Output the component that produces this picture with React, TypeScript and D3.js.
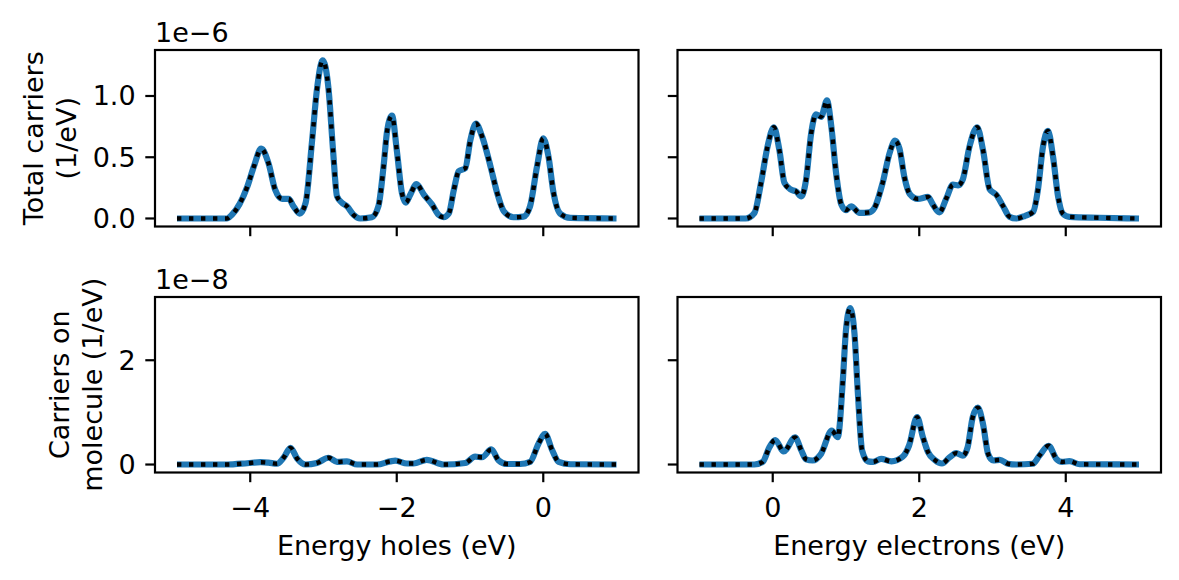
import React from "react";
import * as d3 from "d3";

// ---------- Data ----------
// Top-left: total carriers, holes (units 1e-6 1/eV)
const holesTotalE = [-5, -4.32, -4.25, -4.04, -3.95, -3.85, -3.75, -3.66, -3.565, -3.475, -3.41, -3.325, -3.245, -3.155, -3.09, -3.01, -2.93, -2.87, -2.815, -2.745, -2.68, -2.59, -2.5, -2.34, -2.25, -2.18, -2.13, -2.065, -2.0, -1.93, -1.875, -1.815, -1.73, -1.63, -1.52, -1.43, -1.36, -1.29, -1.22, -1.155, -1.065, -0.995, -0.92, -0.835, -0.72, -0.63, -0.54, -0.405, -0.27, -0.18, -0.085, 0.0, 0.07, 0.14, 0.23, 0.37, 1.0];
const holesTotalV = [0, 0, 0.03, 0.26, 0.425, 0.57, 0.45, 0.235, 0.16, 0.16, 0.1, 0.04, 0.125, 0.64, 1.05, 1.29, 1.05, 0.56, 0.18, 0.127, 0.1, 0.03, 0.0, 0.01, 0.1, 0.425, 0.72, 0.84, 0.56, 0.21, 0.13, 0.195, 0.28, 0.195, 0.115, 0.03, 0.01, 0.04, 0.235, 0.385, 0.41, 0.64, 0.775, 0.67, 0.425, 0.21, 0.06, 0.01, 0.015, 0.1, 0.425, 0.655, 0.51, 0.21, 0.04, 0.005, 0];

// Top-right: total carriers, electrons (1e-6 1/eV)
const elecTotalE = [-1.0, -0.37, -0.25, -0.16, -0.07, 0.015, 0.09, 0.16, 0.25, 0.32, 0.39, 0.455, 0.525, 0.59, 0.66, 0.74, 0.8, 0.865, 0.935, 1.0, 1.07, 1.185, 1.32, 1.39, 1.5, 1.595, 1.67, 1.73, 1.8, 1.87, 1.98, 2.12, 2.185, 2.275, 2.37, 2.46, 2.53, 2.595, 2.687, 2.79, 2.87, 2.96, 3.05, 3.145, 3.23, 3.325, 3.44, 3.555, 3.62, 3.69, 3.757, 3.825, 3.895, 3.96, 4.05, 4.46, 5.0];
const elecTotalV = [0, 0, 0.045, 0.29, 0.59, 0.745, 0.56, 0.29, 0.235, 0.22, 0.18, 0.317, 0.697, 0.85, 0.83, 0.965, 0.75, 0.37, 0.115, 0.068, 0.1, 0.045, 0.05, 0.087, 0.29, 0.534, 0.635, 0.57, 0.33, 0.2, 0.16, 0.176, 0.115, 0.05, 0.165, 0.276, 0.27, 0.32, 0.59, 0.745, 0.56, 0.24, 0.195, 0.1, 0.015, 0, 0.02, 0.055, 0.235, 0.59, 0.715, 0.51, 0.18, 0.04, 0.013, 0.006, 0];

// Bottom-left: carriers on molecule, holes (1e-8 1/eV)
const holesMolE = [-5, -4.32, -4.04, -3.86, -3.75, -3.635, -3.54, -3.45, -3.36, -3.245, -3.09, -2.93, -2.815, -2.68, -2.54, -2.27, -2.09, -2.02, -1.86, -1.77, -1.59, -1.36, -1.065, -0.93, -0.835, -0.71, -0.61, -0.495, -0.315, -0.18, -0.065, 0.025, 0.12, 0.21, 0.37, 1.0];
const holesMolV = [0, 0, 0.025, 0.045, 0.035, 0.015, 0.14, 0.32, 0.115, 0.0, 0.03, 0.13, 0.05, 0.06, 0.0, 0.0, 0.06, 0.075, 0.02, 0.02, 0.09, 0.0, 0.03, 0.15, 0.14, 0.29, 0.08, 0.01, 0.01, 0.05, 0.4, 0.59, 0.28, 0.05, 0.005, 0];

// Bottom-right: carriers on molecule, electrons (1e-8 1/eV)
const elecMolE = [-1.0, -0.25, -0.137, -0.045, 0.033, 0.15, 0.305, 0.39, 0.455, 0.545, 0.66, 0.805, 0.888, 0.957, 1.0, 1.057, 1.116, 1.16, 1.22, 1.3, 1.37, 1.48, 1.62, 1.775, 1.86, 1.97, 2.05, 2.12, 2.21, 2.31, 2.415, 2.505, 2.595, 2.66, 2.73, 2.8, 2.87, 2.94, 3.01, 3.1, 3.21, 3.325, 3.55, 3.64, 3.766, 3.87, 3.95, 4.05, 4.19, 5.0];
const elecMolV = [0, 0, 0.05, 0.333, 0.47, 0.25, 0.52, 0.27, 0.1, 0.077, 0.205, 0.65, 0.525, 1.615, 2.58, 3.0, 2.51, 1.42, 0.27, 0.06, 0.05, 0.109, 0.06, 0.15, 0.36, 0.91, 0.525, 0.237, 0.09, 0.02, 0.14, 0.218, 0.17, 0.33, 0.91, 1.09, 0.78, 0.205, 0.077, 0.09, 0.015, 0, 0.015, 0.17, 0.36, 0.11, 0.05, 0.065, 0.005, 0];

// Axis data ranges (data extents used for 5% autoscale margins)
const holesRange = [-5, 1];
const elecRange = [-1, 5];
const totalMax = 1.31;
const molMax = 3.06;

const holesTicks = [-4, -2, 0];
const elecTicks = [0, 2, 4];
const totalTicks = [0, 0.5, 1.0];
const totalTickLabels = ["0.0", "0.5", "1.0"];
const molTicks = [0, 2];
const molTickLabels = ["0", "2"];

const offsetTexts = ["1e\u22126", "1e\u22128"];
const xLabels = ["Energy holes (eV)", "Energy electrons (eV)"];
const yLabels = [["Total carriers", "(1/eV)"], ["Carriers on", "molecule (1/eV)"]];

// ---------- Layout ----------
const W = 1179;
const H = 580;
const FONT = "DejaVu Sans";
const FS = 27;
const colPx = [[155, 638.5], [677.5, 1161]];
const rowPx = [[50, 226.5], [297, 472.5]];
const TICK = 9.7;
const PAD = 9.7;
const SPINE = 2.2;
const BLUE = "#1f77b4";

const pad = (lo: number, hi: number) => {
  const m = (hi - lo) * 0.05;
  return [lo - m, hi + m];
};

const fmtMinus = (v: number) => String(v).replace("-", "\u2212");

type Panel = {
  row: number;
  col: number;
  xs: number[];
  ys: number[];
};

const panels: Panel[] = [
  { row: 0, col: 0, xs: holesTotalE, ys: holesTotalV },
  { row: 0, col: 1, xs: elecTotalE, ys: elecTotalV },
  { row: 1, col: 0, xs: holesMolE, ys: holesMolV },
  { row: 1, col: 1, xs: elecMolE, ys: elecMolV },
];

export default function App() {
  const xScales = [
    d3.scaleLinear().domain(pad(holesRange[0], holesRange[1])).range(colPx[0]),
    d3.scaleLinear().domain(pad(elecRange[0], elecRange[1])).range(colPx[1]),
  ];
  const yScales = [
    d3.scaleLinear().domain(pad(0, totalMax)).range([rowPx[0][1], rowPx[0][0]]),
    d3.scaleLinear().domain(pad(0, molMax)).range([rowPx[1][1], rowPx[1][0]]),
  ];
  const xTicks = [holesTicks, elecTicks];
  const yTicks = [totalTicks, molTicks];
  const yTickLabels = [totalTickLabels, molTickLabels];
  const yLabelX = [[33, 66], [59, 92]];

  return (
    <svg
      width={W}
      height={H}
      style={{ position: "absolute", left: 0, top: 0, background: "#fff" }}
      fontFamily={FONT}
      fontSize={FS}
    >
      <rect x={0} y={0} width={W} height={H} fill="#fff" />
      {panels.map((p, i) => {
        const xs = xScales[p.col];
        const ys = yScales[p.row];
        const pts: [number, number][] = p.xs.map((e, k) => [e, p.ys[k]]);
        const line = d3
          .line<[number, number]>()
          .x((d) => xs(d[0]))
          .y((d) => ys(d[1]))
          .curve(d3.curveMonotoneX);
        const path = line(pts) || "";
        const [x0, x1] = colPx[p.col];
        const [y0, y1] = rowPx[p.row];
        return (
          <g key={i}>
            <path d={path} fill="none" stroke={BLUE} strokeWidth={6.2} strokeLinejoin="round" strokeLinecap="butt" />
            <path d={path} fill="none" stroke="#000" strokeWidth={4.4} strokeDasharray="4.4 7.6" strokeLinecap="butt" />
            {xTicks[p.col].map((t) => (
              <line key={"xt" + t} x1={xs(t)} x2={xs(t)} y1={y1} y2={y1 + TICK} stroke="#000" strokeWidth={SPINE} />
            ))}
            {p.row === 1 &&
              xTicks[p.col].map((t) => (
                <text key={"xl" + t} x={xs(t)} y={y1 + 44} textAnchor="middle">
                  {fmtMinus(t)}
                </text>
              ))}
            {yTicks[p.row].map((t) => (
              <line key={"yt" + t} x1={x0 - TICK} x2={x0} y1={ys(t)} y2={ys(t)} stroke="#000" strokeWidth={SPINE} />
            ))}
            {p.col === 0 &&
              yTicks[p.row].map((t, k) => (
                <text key={"yl" + t} x={x0 - TICK - PAD} y={ys(t)} textAnchor="end" dominantBaseline="central">
                  {yTickLabels[p.row][k]}
                </text>
              ))}
            {p.col === 0 && (
              <text x={x0} y={y0 - 8.3} textAnchor="start">
                {offsetTexts[p.row]}
              </text>
            )}
            {p.col === 0 &&
              yLabels[p.row].map((s, k) => (
                <text
                  key={"ylab" + k}
                  transform={`translate(${yLabelX[p.row][k]},${(y0 + y1) / 2}) rotate(-90)`}
                  textAnchor="middle"
                  dominantBaseline="central"
                >
                  {s}
                </text>
              ))}
            {p.row === 1 && (
              <text x={(x0 + x1) / 2} y={554.5} textAnchor="middle">
                {xLabels[p.col]}
              </text>
            )}
            <rect x={x0} y={y0} width={x1 - x0} height={y1 - y0} fill="none" stroke="#000" strokeWidth={SPINE} />
          </g>
        );
      })}
    </svg>
  );
}
